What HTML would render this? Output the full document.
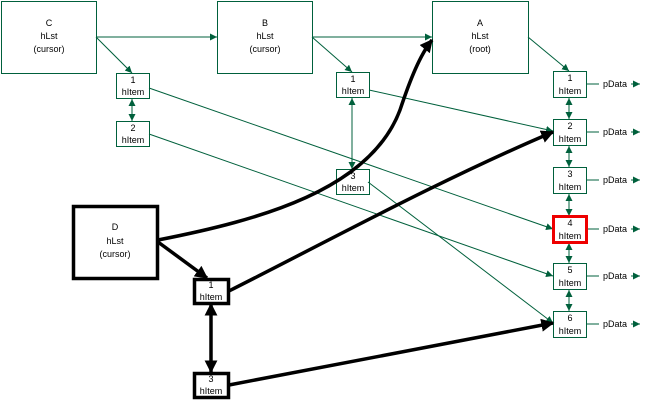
<!DOCTYPE html><html><head><style>body{margin:0;background:#fff}svg text{font-family:"Liberation Sans",sans-serif;font-size:9px;text-anchor:middle}</style></head><body>
<svg width="648" height="403" viewBox="0 0 648 403">
<defs>
<marker id="g" viewBox="0 0 10 10" refX="10" refY="5" markerWidth="7" markerHeight="7" markerUnits="userSpaceOnUse" orient="auto-start-reverse"><path d="M0,0L10,5L0,10z" fill="#00603c"/></marker>
<marker id="k" viewBox="0 0 10 10" refX="9" refY="5" markerWidth="13" markerHeight="13" markerUnits="userSpaceOnUse" orient="auto-start-reverse"><path d="M0,0L10,5L0,10z" fill="#000"/></marker>
</defs>
<g stroke="#00603c" fill="none" stroke-width="1">
<rect x="1.5" y="1.5" width="95" height="72"/><rect x="217.5" y="1.5" width="95" height="72"/><rect x="432.5" y="1.5" width="96" height="72"/>
<rect x="116.5" y="73.5" width="33" height="25"/><rect x="116.5" y="121.5" width="33" height="25"/>
<rect x="336.5" y="72.5" width="33" height="25"/><rect x="336.5" y="169.5" width="33" height="25"/>
<rect x="553.5" y="71.5" width="33" height="26"/><rect x="553.5" y="119.5" width="33" height="26"/><rect x="553.5" y="167.5" width="33" height="26"/><rect x="553.5" y="263.5" width="33" height="26"/><rect x="553.5" y="311.5" width="33" height="26"/>
<g marker-end="url(#g)">
<path d="M96,37H217"/><path d="M312,37H432"/>
<path d="M96,37L132,73"/><path d="M312,37L352,72"/><path d="M528,37L569,71"/>
<path d="M149,88L553,229"/><path d="M149,134L553,276"/><path d="M369,90L553,131"/><path d="M368,182L553,323"/>
<path d="M132,99V121" marker-start="url(#g)"/><path d="M352,98V169" marker-start="url(#g)"/>
<path d="M569,98V119" marker-start="url(#g)"/><path d="M569,146V167" marker-start="url(#g)"/><path d="M569,194V216" marker-start="url(#g)"/><path d="M569,243V263" marker-start="url(#g)"/><path d="M569,290V311" marker-start="url(#g)"/>
<path d="M586,84H599M631,84H640"/><path d="M586,132H599M631,132H640"/><path d="M586,180H599M631,180H640"/><path d="M586,229H599M631,229H640"/><path d="M586,276H599M631,276H640"/><path d="M586,324H599M631,324H640"/>
</g></g>
<rect x="553.5" y="216.5" width="33" height="26" fill="none" stroke="#e00" stroke-width="3"/>
<g stroke="#000" fill="none" stroke-width="3.5">
<rect x="73.5" y="206.5" width="84" height="72"/><rect x="194.5" y="279.5" width="34" height="24"/><rect x="194.5" y="373.5" width="34" height="24"/>
<g marker-end="url(#k)">
<path d="M158,240C260,220 370,190 400,110C410,80 420,55 432,40"/>
<path d="M158,242L207,278"/>
<path d="M229,291C330,240 440,180 553,132"/>
<path d="M211,304V372" marker-start="url(#k)"/>
<path d="M229,385L553,323"/>
</g></g>
<g fill="#000">
<text x="49" y="26">C</text><text x="49" y="39">hLst</text><text x="49" y="52">(cursor)</text>
<text x="265" y="26">B</text><text x="265" y="39">hLst</text><text x="265" y="52">(cursor)</text>
<text x="480" y="26">A</text><text x="480" y="39">hLst</text><text x="480" y="52">(root)</text>
<text x="115" y="230">D</text><text x="115" y="244">hLst</text><text x="115" y="257">(cursor)</text>
<text x="133" y="83">1</text><text x="133" y="95">hItem</text>
<text x="133" y="131">2</text><text x="133" y="143">hItem</text>
<text x="353" y="82">1</text><text x="353" y="94">hItem</text>
<text x="353" y="179">3</text><text x="353" y="191">hItem</text>
<text x="211" y="288">1</text><text x="211" y="300">hItem</text>
<text x="211" y="382">3</text><text x="211" y="394">hItem</text>
<text x="570" y="81">1</text><text x="570" y="94">hItem</text>
<text x="570" y="129">2</text><text x="570" y="142">hItem</text>
<text x="570" y="177">3</text><text x="570" y="190">hItem</text>
<text x="570" y="226">4</text><text x="570" y="239">hItem</text>
<text x="570" y="273">5</text><text x="570" y="286">hItem</text>
<text x="570" y="321">6</text><text x="570" y="334">hItem</text>
<text x="615" y="87">pData</text><text x="615" y="135">pData</text><text x="615" y="183">pData</text><text x="615" y="232">pData</text><text x="615" y="279">pData</text><text x="615" y="327">pData</text>
</g></svg></body></html>
